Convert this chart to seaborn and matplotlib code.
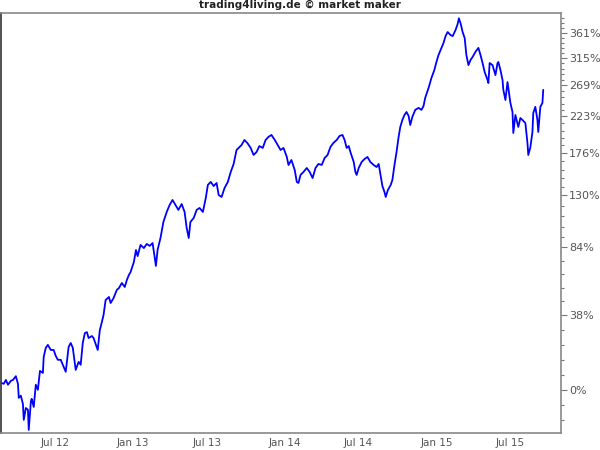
import numpy as np
import pandas as pd
import seaborn as sns
import matplotlib
matplotlib.use("Agg")
import matplotlib.pyplot as plt
import matplotlib.dates as mdates
from matplotlib.ticker import FixedLocator, FixedFormatter, NullFormatter

# performance in percent
dates = [
    "2012-03-28", "2012-04-04", "2012-04-09", "2012-04-14", "2012-04-21", "2012-04-26",
    "2012-05-03", "2012-05-08", "2012-05-10", "2012-05-15", "2012-05-20", "2012-05-22",
    "2012-05-27", "2012-06-01", "2012-06-03", "2012-06-08", "2012-06-10", "2012-06-15",
    "2012-06-20", "2012-06-25", "2012-06-30", "2012-07-07", "2012-07-09", "2012-07-14",
    "2012-07-19", "2012-07-26", "2012-08-02", "2012-08-07", "2012-08-12", "2012-08-19",
    "2012-08-26", "2012-08-31", "2012-09-07", "2012-09-12", "2012-09-17", "2012-09-24",
    "2012-10-01", "2012-10-06", "2012-10-11", "2012-10-16", "2012-10-21", "2012-10-25",
    "2012-11-02", "2012-11-06", "2012-11-14", "2012-11-16", "2012-11-21", "2012-11-26",
    "2012-11-30", "2012-12-05", "2012-12-13", "2012-12-17", "2012-12-24",
    "2013-01-01", "2013-01-06", "2013-01-13", "2013-01-20", "2013-01-25", "2013-01-30",
    "2013-02-03", "2013-02-11", "2013-02-16", "2013-02-20", "2013-02-27", "2013-03-07",
    "2013-03-14", "2013-03-21", "2013-03-28", "2013-04-05", "2013-04-09", "2013-04-16",
    "2013-04-23", "2013-05-01", "2013-05-08", "2013-05-15", "2013-05-22", "2013-05-29",
    "2013-06-06", "2013-06-13", "2013-06-18", "2013-06-23", "2013-06-27", "2013-07-05",
    "2013-07-12", "2013-07-19", "2013-07-27", "2013-08-03", "2013-08-08", "2013-08-15",
    "2013-08-22", "2013-08-29", "2013-09-03", "2013-09-10", "2013-09-17", "2013-09-25",
    "2013-10-02", "2013-10-09", "2013-10-16", "2013-10-21", "2013-10-28", "2013-11-04",
    "2013-11-11", "2013-11-19", "2013-11-26", "2013-12-03", "2013-12-10", "2013-12-18",
    "2013-12-25",
    "2014-01-01", "2014-01-08", "2014-01-16", "2014-01-23", "2014-01-30", "2014-02-06",
    "2014-02-14", "2014-02-18", "2014-02-25", "2014-03-05", "2014-03-10", "2014-03-14",
    "2014-03-19", "2014-03-26", "2014-04-03", "2014-04-10", "2014-04-17", "2014-04-24",
    "2014-05-01", "2014-05-09", "2014-05-16", "2014-05-23", "2014-05-30", "2014-06-06",
    "2014-06-14", "2014-06-21", "2014-06-28", "2014-07-03", "2014-07-08", "2014-07-13",
    "2014-07-17", "2014-07-25", "2014-07-29", "2014-08-01", "2014-08-06", "2014-08-13",
    "2014-08-20", "2014-08-27", "2014-09-03", "2014-09-11", "2014-09-18", "2014-09-23",
    "2014-09-28", "2014-10-02", "2014-10-07", "2014-10-10", "2014-10-15", "2014-10-22",
    "2014-10-26", "2014-10-31", "2014-11-05", "2014-11-10", "2014-11-14", "2014-11-19",
    "2014-11-24", "2014-11-29", "2014-12-04", "2014-12-08", "2014-12-13", "2014-12-20",
    "2014-12-28",
    "2015-01-04", "2015-01-09", "2015-01-13", "2015-01-21", "2015-01-28", "2015-02-04",
    "2015-02-09", "2015-02-14", "2015-02-19", "2015-02-26", "2015-03-03", "2015-03-08",
    "2015-03-15", "2015-03-20", "2015-03-27", "2015-04-01", "2015-04-04", "2015-04-08",
    "2015-04-13", "2015-04-18", "2015-04-22", "2015-04-27", "2015-05-02", "2015-05-07",
    "2015-05-14", "2015-05-21", "2015-05-26", "2015-05-31", "2015-06-05", "2015-06-12",
    "2015-06-14", "2015-06-17", "2015-06-24", "2015-07-01", "2015-07-06", "2015-07-08",
    "2015-07-13", "2015-07-18", "2015-07-20", "2015-07-25", "2015-07-30", "2015-08-01",
    "2015-08-06", "2015-08-11", "2015-08-13", "2015-08-18", "2015-08-25", "2015-08-30",
    "2015-09-04", "2015-09-11", "2015-09-16", "2015-09-18", "2015-09-23", "2015-09-28",
    "2015-09-30", "2015-10-05", "2015-10-10", "2015-10-12", "2015-10-17", "2015-10-22",
    "2015-10-24",
]
perf = [
    3.0, 2.6, 4.3, 2.2, 3.9, 4.3,
    6.0, 2.6, -3.4, -2.5, -5.9, -12.1,
    -7.5, -8.2, -15.8, -5.1, -3.8, -7.1,
    2.2, 0.0, 8.4, 7.5, 15.1, 19.7,
    21.2, 18.6, 18.6, 15.6, 13.7, 13.7,
    10.3, 8.0, 20.2, 22.2, 19.7, 8.9,
    12.7, 11.3, 22.2, 27.5, 28.0, 24.8,
    25.9, 24.8, 19.7, 18.6, 29.1, 33.7,
    37.8, 46.9, 48.8, 45.0, 48.1,
    53.4, 54.6, 58.0, 55.3, 60.0, 63.5,
    65.6, 72.9, 82.0, 77.3, 86.0, 83.5,
    86.8, 85.2, 87.5, 70.0, 82.0, 91.6,
    105.2, 114.2, 120.7, 125.5, 120.7, 116.1,
    121.6, 114.2, 100.1, 91.6, 105.2, 108.8,
    116.1, 117.9, 114.2, 127.5, 140.5, 143.6,
    139.3, 142.5, 130.3, 128.4, 137.2, 143.6,
    154.2, 163.1, 179.3, 181.8, 185.3, 191.6,
    187.8, 181.8, 173.4, 176.9, 184.1, 181.8,
    191.6,
    195.5, 197.9, 191.6, 185.3, 179.3, 181.8,
    171.1, 161.9, 167.6, 156.4, 143.6, 142.5,
    151.0, 154.2, 158.6, 154.2, 147.7, 158.6,
    163.1, 162.0, 169.9, 173.4, 183.0, 187.8,
    191.6, 196.7, 197.9, 191.6, 181.8, 184.1,
    176.9, 165.3, 154.2, 151.0, 158.6, 165.3,
    168.7, 171.1, 165.3, 161.9, 159.7, 163.1,
    149.9, 139.3, 133.3, 128.4, 135.1, 140.5,
    145.6, 161.9, 176.9, 195.5, 208.3, 217.6,
    224.5, 228.7, 223.2, 210.9, 221.8, 231.7,
    234.5,
    231.7, 237.3, 249.3, 264.3, 280.3, 293.5,
    307.2, 319.6, 328.7, 341.7, 355.1, 363.0,
    357.0, 355.0, 367.0, 379.0, 391.0, 381.0,
    363.0, 351.0, 319.6, 301.8, 310.7, 316.1,
    325.4, 332.6, 319.6, 305.4, 290.1, 277.0,
    272.1, 305.4, 301.8, 285.0, 305.4, 307.2,
    293.5, 277.0, 261.4, 246.0, 273.7, 264.3,
    241.6, 228.7, 200.4, 224.5, 208.3, 220.4,
    217.6, 213.5, 187.8, 173.4, 182.6, 201.7,
    227.3, 236.0, 217.6, 201.7, 236.0, 241.6,
    261.4,
]
tick_pct = [0, 38, 84, 130, 176, 223, 269, 315, 361]

df = pd.DataFrame({"date": pd.to_datetime(dates), "perf": perf})
df["level"] = 100 + df["perf"]

sns.set_theme(style="white")
plt.rcParams["font.family"] = ["DejaVu Sans"]

fig = plt.figure(figsize=(6, 4.5), dpi=100)
ax = fig.add_axes([0.0015, 0.0378, 0.933, 0.933])

sns.lineplot(data=df, x="date", y="level", color="#0000ff", linewidth=1.3,
             estimator=None, sort=False, ax=ax)

ax.set_yscale("log")
ax.set_ylim(83.1, 502)
ax.set_xlim(pd.Timestamp("2012-03-28"), pd.Timestamp("2015-12-05"))

# right-hand percentage axis
levels = [100 + p for p in tick_pct]
ax.yaxis.tick_right()
ax.yaxis.set_major_locator(FixedLocator(levels))
ax.yaxis.set_major_formatter(FixedFormatter([f"{p}%" for p in tick_pct]))
minor = []
for a, b in zip(levels[:-1], levels[1:]):
    minor += list(np.geomspace(a, b, 6)[1:-1])
r0 = (levels[1] / levels[0]) ** 0.2
minor += [levels[0] / r0, levels[0] / r0 ** 2]
r1 = (levels[-1] / levels[-2]) ** 0.2
minor += [levels[-1] * r1, levels[-1] * r1 ** 2, levels[-1] * r1 ** 3]
ax.yaxis.set_minor_locator(FixedLocator(minor))
ax.yaxis.set_minor_formatter(NullFormatter())

ax.xaxis.set_major_locator(mdates.MonthLocator(bymonth=[1, 7]))
ax.xaxis.set_major_formatter(mdates.DateFormatter("%b %y"))

ax.tick_params(axis="y", which="major", direction="out", length=4, width=0.8,
               color="#777777", labelcolor="#555555", labelsize=8, pad=2)
ax.tick_params(axis="y", which="minor", direction="out", length=2, width=0.8,
               color="#777777")
ax.tick_params(axis="x", which="major", direction="out", length=3, width=0.8,
               color="#777777", labelcolor="#555555", labelsize=7.5, pad=0.5)
for lbl in ax.get_xticklabels():
    lbl.set_horizontalalignment("left")
ax.set_xlabel("")
ax.set_ylabel("")
for s in ax.spines.values():
    s.set_color("#888888")
    s.set_linewidth(1.2)
ax.spines["left"].set_color("#333333")

fig.text(0.5, 0.988, "trading4living.de \u00a9 market maker", ha="center", va="center",
         fontsize=7.5, fontweight="bold", color="#222222")

fig.savefig("out.png", dpi=100)
